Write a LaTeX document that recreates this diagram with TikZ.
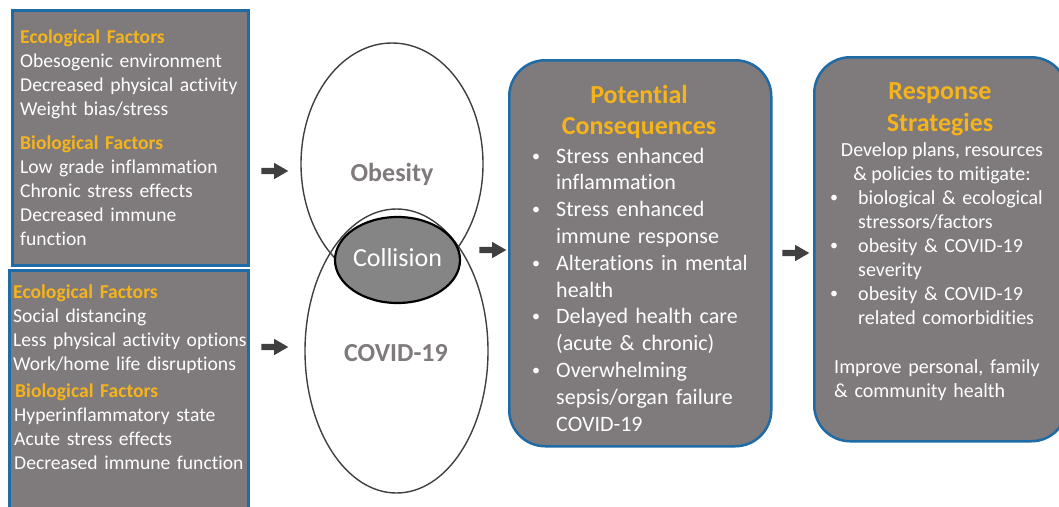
\documentclass[tikz,border=0pt]{standalone}
\usepackage{fontspec}
\setmainfont{Carlito}[Ligatures=NoCommon]
\usetikzlibrary{shapes.geometric,shapes.arrows}
\definecolor{boxgray}{HTML}{7F7A7B}
\definecolor{boxblue}{HTML}{1F6BA5}
\definecolor{gold}{HTML}{F5B41B}
\definecolor{arrowgray}{HTML}{404040}
\definecolor{colgray}{HTML}{858585}
\newcommand\hd[1]{{\bfseries\color{gold}#1}}
\newcommand\smallbul{\raisebox{2pt}{\fontsize{16}{16}\selectfont\textbullet}}
\newcommand\blta{\makebox[24pt][l]{\smallbul}}
\newcommand\bltb{\makebox[28pt][l]{\smallbul}}
\begin{document}
\begin{tikzpicture}[x=1pt,y=-1pt,
  panel/.style={draw=boxblue, line width=2.5pt, fill=boxgray, inner sep=0pt, anchor=north west},
  bodytext/.style={text=white, inner sep=0pt, anchor=base west, align=left, font=\fontsize{20}{24}\selectfont},
  lefttext/.style={bodytext, font=\fontsize{19.6}{24}\selectfont},
  titletext/.style={text=gold, inner sep=0pt, anchor=base, align=center, font=\bfseries\fontsize{26}{31.5}\selectfont},
  bigarrow/.style={single arrow, fill=arrowgray, draw=none, text height=3pt, text depth=3pt, minimum height=27pt, single arrow head extend=5pt, single arrow tip angle=60, inner sep=0pt},
  oval/.style={ellipse, draw=arrowgray, line width=1.4pt, inner sep=0pt},
  ovaltext/.style={inner sep=0pt, anchor=base, text=boxgray, font=\bfseries\fontsize{26}{30}\selectfont},
]
\clip (0,0) rectangle (1059,506);
\fill[white] (0,0) rectangle (1059,506);

% panels
\node[panel, minimum width=236pt, minimum height=255pt] (eco1) at (11,9) {};
\node[panel, minimum width=239pt, minimum height=260pt] (eco2) at (8,269) {};
\node[panel, rounded corners=36pt, minimum width=262pt, minimum height=386pt] (cons) at (508,59) {};
\node[panel, rounded corners=36pt, minimum width=253pt, minimum height=384pt] (resp) at (813,56) {};

% left panel texts
\node[lefttext, text width=230pt] (t1) at (20,43) {\hd{Ecological Factors}\\
Obesogenic environment\\
Decreased physical activity\\
Weight bias/stress\\[10pt]
\hd{Biological Factors}\\
Low grade inflammation\\
Chronic stress effects\\
Decreased immune\\
function};

\node[lefttext, text width=240pt] (t2) at (13,298) {\hd{Ecological Factors}\\
Social distancing\\
Less physical activity options\\
Work/home life disruptions\\[3pt]
\hspace*{2pt}\hd{Biological Factors}\\
\hspace*{1pt}Hyperinflammatory state\\
\hspace*{1pt}Acute stress effects\\
\hspace*{1pt}Decreased immune function};

% ellipses
\node[oval, minimum width=182pt, minimum height=242pt] (obes) at (392,164) {};
\node[oval, minimum width=183pt, minimum height=284pt] (covid) at (396.5,351) {};
\node[ellipse, draw=black, line width=2.2pt, fill=colgray, minimum width=125pt, minimum height=86pt, inner sep=0pt] (coll) at (397.5,260) {};
\node[inner sep=0pt, anchor=base, text=white, font=\fontsize{26}{30}\selectfont] (colltxt) at (397.5,266) {Collision};
\node[ovaltext] (obtxt) at (392,181) {Obesity};
\node[ovaltext] (cvtxt) at (396,361) {COVID-19};

% arrows
\node[bigarrow] (a1) at (272,171) {};
\node[bigarrow] (a2) at (272,347) {};
\node[bigarrow] (a3) at (490,250) {};
\node[bigarrow] (a4) at (793,253) {};

% consequences
\node[titletext] (constitle) at (639,134.5) {Potential\\Consequences};
\node[bodytext, text width=235pt, font=\fontsize{22}{26.8}\selectfont] (conslist) at (532,163) {\blta Stress enhanced\\
\hspace*{24pt}inflammation\\
\blta Stress enhanced\\
\hspace*{24pt}immune response\\
\blta Alterations in mental\\
\hspace*{24pt}health\\
\blta Delayed health care\\
\hspace*{24pt}(acute \& chronic)\\
\blta Overwhelming\\
\hspace*{24pt}sepsis/organ failure\\
\hspace*{24pt}COVID-19};

% response
\node[titletext] (resptitle) at (940,131) {Response\\Strategies};
\node[bodytext, anchor=base, align=center] (respintro) at (942,180) {Develop plans, resources\\
\& policies to mitigate:};
\node[bodytext, text width=230pt] (resplist) at (830,204) {\bltb biological \& ecological\\
\hspace*{28pt}stressors/factors\\
\bltb obesity \& COVID-19\\
\hspace*{28pt}severity\\
\bltb obesity \& COVID-19\\
\hspace*{28pt}related comorbidities};
\node[bodytext, text width=230pt] (respend) at (834,373) {Improve personal, family\\
\& community health};
\end{tikzpicture}
\end{document}
